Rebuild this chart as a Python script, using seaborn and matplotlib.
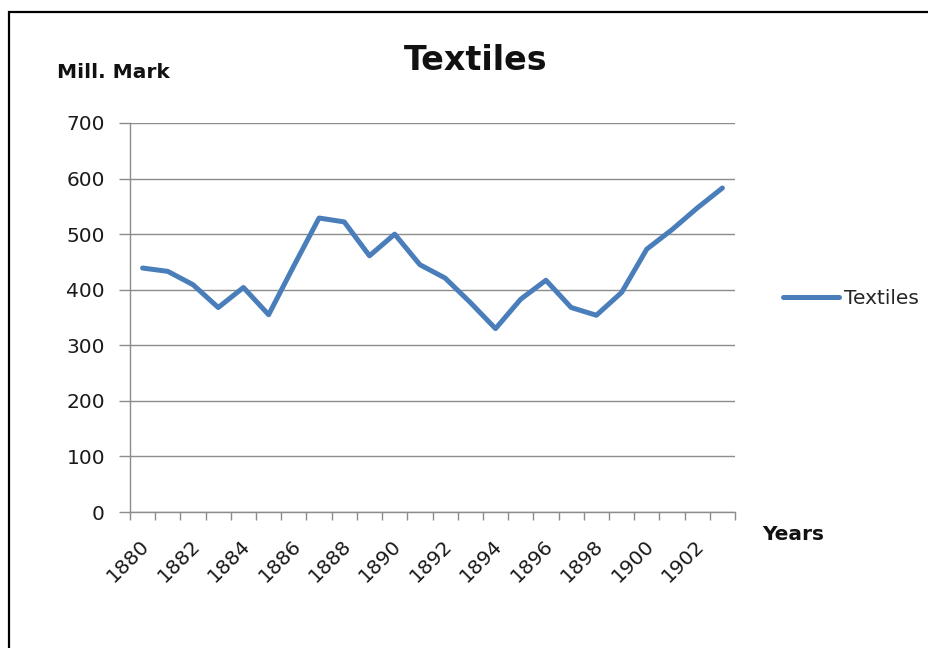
import matplotlib
matplotlib.use("Agg")
import matplotlib.pyplot as plt
import matplotlib.transforms as mtransforms
import seaborn as sns
import pandas as pd
from matplotlib.lines import Line2D
from matplotlib.ticker import FixedLocator, NullFormatter

years = list(range(1880, 1904))
textiles = [439, 433, 409, 368, 404, 355, 443, 529, 522, 461, 500, 445,
            421, 377, 330, 383, 417, 368, 354, 395, 473, 508, 547, 583]
tick_labels = [str(y) for y in range(1880, 1903, 2)]
yticks = [0, 100, 200, 300, 400, 500, 600, 700]

df = pd.DataFrame({"Year": years, "Textiles": textiles})

sns.set_theme(style="white")
plt.rcParams["font.family"] = ["DejaVu Sans"]

W, H = 929, 648
fig = plt.figure(figsize=(W/100, H/100), dpi=100)
ax = fig.add_axes([130/W, 1-512/H, 605/W, 389/H])

sns.lineplot(data=df, x="Year", y="Textiles", ax=ax, color="#4A7EBB",
             linewidth=3.6, label="Textiles", legend=False)

ax.set_xlim(years[0]-0.5, years[-1]+0.5)
ax.set_ylim(0, 700)
ax.set_yticks(yticks)
ax.yaxis.grid(True, color="#8c8c8c", linewidth=1.0)
ax.set_axisbelow(True)
for s in ["top", "right"]:
    ax.spines[s].set_visible(False)
for s in ["left", "bottom"]:
    ax.spines[s].set_color("#8c8c8c")
    ax.spines[s].set_linewidth(1.0)

label_pos = [int(t) for t in tick_labels]
ax.set_xticks(label_pos)
ax.set_xticklabels(tick_labels, rotation=45, ha="right", va="center",
                   rotation_mode="anchor", fontsize=14.5, color="#1a1a1a")
ax.tick_params(axis="x", which="major", length=0, pad=22)
offset = mtransforms.ScaledTranslation(4/100, 0, fig.dpi_scale_trans)
for lab in ax.get_xticklabels():
    lab.set_transform(lab.get_transform() + offset)
ax.xaxis.set_minor_locator(FixedLocator([y - 0.5 for y in years] + [years[-1] + 0.5]))
ax.xaxis.set_minor_formatter(NullFormatter())
ax.tick_params(axis="x", which="minor", length=6, width=1, color="#8c8c8c", bottom=True)
ax.tick_params(axis="y", length=8, width=1, color="#8c8c8c", left=True,
               labelsize=14.5, labelcolor="#1a1a1a", pad=10)
ax.set_xlabel("")
ax.set_ylabel("")

fig.text(476/W, 1-70/H, "Textiles", ha="center", va="baseline",
         fontsize=24, fontweight="bold", color="#111111")
fig.text(57/W, 1-78/H, "Mill. Mark", ha="left", va="baseline",
         fontsize=14.5, fontweight="bold", color="#111111")
fig.text(762/W, 1-540/H, "Years", ha="left", va="baseline",
         fontsize=14.5, fontweight="bold", color="#111111")

handles, labels = ax.get_legend_handles_labels()
fig.legend(handles, labels, loc="center left", bbox_to_anchor=(783/W, 1-299/H),
           frameon=False, fontsize=14.5, handlelength=2.8, handletextpad=0.25,
           borderpad=0, borderaxespad=0)

fig.add_artist(Line2D([9.5/W, 9.5/W, 1.0], [0.0, 1-11.5/H, 1-11.5/H],
                      transform=fig.transFigure, color="black", linewidth=1.6,
                      solid_joinstyle="miter"))

fig.savefig("out.png", dpi=100)
